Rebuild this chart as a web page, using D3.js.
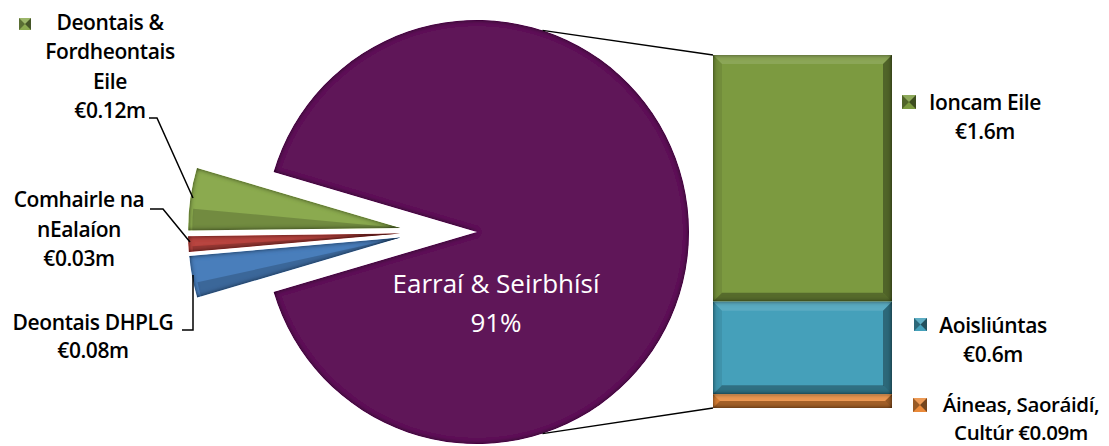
<!DOCTYPE html>
<html><head><meta charset="utf-8">
<script src="https://cdn.jsdelivr.net/npm/d3@7"></script>
<style>
html,body{margin:0;padding:0;background:#fff;}
svg{display:block;font-family:"Open Sans",sans-serif;}
</style></head>
<body><svg id="c" width="1109" height="446"></svg>
<script>
// ---- data ----
const barCategories = ["Ioncam Eile", "Aoisliúntas", "Áineas, Saoráidí, Cultúr"];
const barValues = [1.6, 0.6, 0.09];
const barValueLabels = ["€1.6m", "€0.6m", "€0.09m"];
const mainCategory = "Earraí & Seirbhísí";
const smallCategories = ["Deontais DHPLG", "Comhairle na nEalaíon", "Deontais & Fordheontais Eile"];
const smallValues = [0.08, 0.03, 0.12];
const smallValueLabels = ["€0.08m", "€0.03m", "€0.12m"];

const pieColors = ["#5E1259", "#4A7EBB", "#B8443F", "#8BAA50"];
const barColors = ["#7B9A3F", "#44A0BA", "#EA8A3A"];

// ---- setup ----
const svg = d3.select("#c");
const defs = svg.append("defs");
const f = defs.append("filter").attr("id", "rim").attr("x", "-10%").attr("y", "-10%").attr("width", "120%").attr("height", "120%");
f.append("feGaussianBlur").attr("in", "SourceAlpha").attr("stdDeviation", 2.6).attr("result", "b");
f.append("feComposite").attr("in", "SourceAlpha").attr("in2", "b").attr("operator", "arithmetic")
  .attr("k1", 0).attr("k2", 1.6).attr("k3", -1.6).attr("k4", 0).attr("result", "edge");
f.append("feFlood").attr("flood-color", "#000").attr("flood-opacity", 0.75);
f.append("feComposite").attr("in2", "edge").attr("operator", "in").attr("result", "shadow");
const fm = f.append("feMerge");
fm.append("feMergeNode").attr("in", "SourceGraphic");
fm.append("feMergeNode").attr("in", "shadow");

// ---- pie ----
const mainValue = d3.sum(barValues);
const pieValues = [mainValue].concat(smallValues);
const total = d3.sum(pieValues);
const mainAngle = 2 * Math.PI * mainValue / total;
const smallAngle = 2 * Math.PI - mainAngle;
const start = 1.5 * Math.PI - mainAngle - smallAngle / 2;
const pie = d3.pie().sort(null).startAngle(start).endAngle(start + 2 * Math.PI);
const arcs = pie(pieValues);
const cx = 477, cy = 232, R = 212;
const arc = d3.arc().innerRadius(0).outerRadius(R);

const pg = svg.append("g").attr("transform", `translate(${cx},${cy})`);
arcs.forEach((a, i) => {
  let tx = 0, ty = 0;
  if (i > 0) {
    const mid = (a.startAngle + a.endAngle) / 2;
    tx = Math.sin(mid) * 30 - 47;
    ty = -Math.cos(mid) * 30;
  }
  const g = pg.append("g").attr("transform", `translate(${tx},${ty})`);
  g.append("path").attr("d", arc(a)).attr("fill", pieColors[i]).attr("filter", "url(#rim)");
  if (i > 0) {
    const inner = d3.arc().innerRadius(0).outerRadius(R - 4)
      .startAngle(a.startAngle).endAngle(a.startAngle + (a.endAngle - a.startAngle) * 0.35);
    g.append("path").attr("d", inner()).attr("fill", "#000").attr("opacity", 0.18);
  }
});

const pTop = [cx + R * Math.sin(18 * Math.PI / 180), cy - R * Math.cos(18 * Math.PI / 180)];
const pBot = [cx + R * Math.sin(162 * Math.PI / 180), cy - R * Math.cos(162 * Math.PI / 180)];

// ---- bar ----
const y = d3.scaleLinear().domain([0, mainValue]).range([55, 408]);
const x0 = 713, x1 = 892;
let cum = 0;
const bg = svg.append("g");
barValues.forEach((v, i) => {
  const yt = y(cum), yb = y(cum + v);
  cum += v;
  const h = yb - yt, w = x1 - x0;
  const b = Math.min(9, h / 2);
  const g = bg.append("g");
  g.append("rect").attr("x", x0).attr("y", yt).attr("width", w).attr("height", h)
    .attr("fill", barColors[i]).attr("filter", "url(#rim)");
  const poly = (pts, fill, op) => g.append("polygon").attr("points", pts.map(p => p.join(",")).join(" "))
    .attr("fill", fill).attr("opacity", op);
  poly([[x0, yt], [x1, yt], [x1 - b, yt + b], [x0 + b, yt + b]], "#fff", 0.12);
  poly([[x0, yt], [x0 + b, yt + b], [x0 + b, yb - b], [x0, yb]], "#000", 0.08);
  poly([[x1, yt], [x1, yb], [x1 - b, yb - b], [x1 - b, yt + b]], "#000", 0.35);
  poly([[x0, yb], [x1, yb], [x1 - b, yb - b], [x0 + b, yb - b]], "#000", 0.3);
});

svg.append("line").attr("x1", pTop[0]).attr("y1", pTop[1]).attr("x2", x0).attr("y2", y(0))
  .attr("stroke", "#000").attr("stroke-width", 1.5);
svg.append("line").attr("x1", pBot[0]).attr("y1", pBot[1]).attr("x2", x0).attr("y2", y(mainValue))
  .attr("stroke", "#000").attr("stroke-width", 1.5);

// ---- labels ----
function label(lines, xc, y0, dy, color, size, weight, ls) {
  lines.forEach((l, i) => svg.append("text").attr("text-anchor", "middle").attr("fill", color || "#000")
    .style("font-size", (size || 21) + "px").style("font-weight", weight || 600)
    .style("letter-spacing", (ls === undefined ? -0.4 : ls) + "px")
    .attr("x", xc).attr("y", y0 + i * dy).text(l));
}
function marker(x, yy, s, color) {
  const g = svg.append("g");
  g.append("rect").attr("x", x).attr("y", yy).attr("width", s).attr("height", s).attr("fill", color);
  const c = [x + s / 2, yy + s / 2];
  g.append("polygon").attr("points", `${x},${yy} ${c} ${x},${yy + s}`).attr("fill", "#000").attr("opacity", 0.35);
  g.append("polygon").attr("points", `${x + s},${yy} ${c} ${x + s},${yy + s}`).attr("fill", "#000").attr("opacity", 0.5);
  g.append("polygon").attr("points", `${x},${yy} ${c} ${x + s},${yy}`).attr("fill", "#fff").attr("opacity", 0.15);
}

const pct = Math.round(mainValue / total * 100) + "%";
label([mainCategory, pct], 496, 293, 39, "#fff", 26, 400, 0);

label(["Deontais &", "Fordheontais", "Eile", smallValueLabels[2]], 110, 30, 29.4);
marker(19, 18, 12, pieColors[3]);
label(["Comhairle na", "nEalaíon", smallValueLabels[1]], 79, 207, 29.5);
label([smallCategories[0], smallValueLabels[0]], 93, 330, 28);

label([barCategories[0], barValueLabels[0]], 985, 110, 29);
marker(902, 95, 14, barColors[0]);
label([barCategories[1], barValueLabels[1]], 993, 333, 29);
marker(914, 318, 13, barColors[1]);
label(["Áineas, Saoráidí,", "Cultúr " + barValueLabels[2]], 1021, 412, 28, "#000", 20.5);
marker(913, 398, 14, barColors[2]);

// leader lines
const lead = [
  [[149, 118], [157, 118], [193, 198]],
  [[150, 209], [163, 209], [190, 242]],
  [[182, 330], [193, 330], [193, 275]]
];
lead.forEach(p => svg.append("path").attr("d", d3.line()(p)).attr("fill", "none")
  .attr("stroke", "#000").attr("stroke-width", 1.5));
</script></body></html>
